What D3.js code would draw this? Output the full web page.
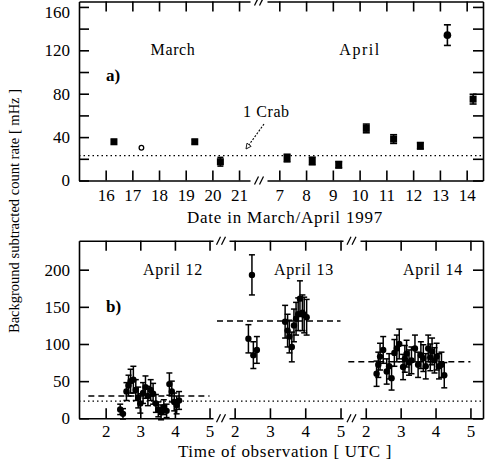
<!DOCTYPE html>
<html><head><meta charset="utf-8">
<script src="https://cdn.jsdelivr.net/npm/d3@7"></script>
<style>
body{margin:0;background:#fff;}
svg text{font-family:"Liberation Serif","Times New Roman",serif;fill:#000;}
</style></head>
<body><svg id="c" width="485" height="467"></svg>
<script>
// ---------- data ----------
const crabRate = 23;
// panel a
const marchDays  = [16.31, 17.34, 19.34, 20.3];
const marchRates = [35.7, 30.2, 35.7, 17.3];
const marchErrs  = [2, 0, 2, 4];
const marchOpen  = [false, true, false, false];
const aprilDays  = [7.29, 8.23, 9.22, 10.25, 11.27, 12.27, 13.28, 14.24];
const aprilRates = [20.7, 18, 14.5, 48, 38.2, 32, 134, 75];
const aprilErrs  = [3.5, 3.5, 3, 4, 4, 3, 9.5, 4.5];
const marchTicks = [16, 17, 18, 19, 20, 21];
const aprilTicks = [7, 8, 9, 10, 11, 12, 13, 14];
const rateTicksA = [0, 20, 40, 60, 80, 100, 120, 140, 160];
const rateLabelsA = [0, 40, 80, 120, 160];
// panel b
const hourTicks = [2, 3, 4, 5];
const rateTicksB = [0, 50, 100, 150, 200];
const dayNames = ["April 12", "April 13", "April 14"];
const dayMeans = [30, 131, 76];
const t12 = [2.42, 2.5, 2.6, 2.66, 2.72, 2.8, 2.87, 2.94, 3.0, 3.08, 3.15, 3.22, 3.3, 3.37, 3.45, 3.52, 3.6, 3.68, 3.76, 3.84, 3.91, 3.98, 4.05, 4.12];
const v12 = [12, 6, 36, 44, 50, 52, 38, 28, 20, 34, 42, 30, 38, 33, 20, 12, 8, 15, 10, 46, 36, 22, 18, 24];
const e12 = [7, 7, 12, 14, 16, 18, 14, 14, 13, 14, 15, 13, 14, 14, 12, 10, 10, 10, 9, 15, 14, 12, 12, 12];
const t13 = [2.39, 2.49, 2.53, 2.63, 3.43, 3.5, 3.55, 3.62, 3.68, 3.74, 3.8, 3.85, 3.92, 3.97, 4.04];
const v13 = [107, 193, 85, 92, 130, 118, 110, 96, 125, 134, 140, 161, 142, 139, 136];
const e13 = [19, 27, 18, 18, 22, 22, 22, 20, 22, 22, 22, 24, 24, 24, 24];
const t14 = [2.31, 2.36, 2.41, 2.5, 2.6, 2.67, 2.74, 2.82, 2.89, 2.96, 3.07, 3.12, 3.17, 3.24, 3.31, 3.41, 3.5, 3.58, 3.65, 3.72, 3.79, 3.85, 3.9, 3.97, 4.03, 4.1, 4.17, 4.25];
const v14 = [60, 72, 83, 92, 63, 70, 54, 88, 94, 100, 69, 80, 87, 75, 78, 94, 72, 85, 81, 70, 94, 82, 90, 78, 83, 70, 72, 58];
const e14 = [17, 17, 18, 18, 17, 17, 16, 18, 18, 20, 17, 18, 18, 17, 18, 18, 17, 18, 18, 17, 18, 18, 18, 17, 18, 17, 17, 17];

// ---------- layout ----------
const svg = d3.select("#c");
const L = 79, R = 483;
const aTop = 1.5, aBot = 180.5, bTop = 240.7, bBot = 418.3;
const TK = 10, FS = 17;

const yA = d3.scaleLinear().domain([0, 165]).range([aBot, aTop]);
const xMar = d3.scaleLinear().domain([15, 21.41]).range([L, 250]);
const xApr = d3.scaleLinear().domain([6.54, 14.61]).range([267, R]);
const yB = d3.scaleLinear().domain([0, 239]).range([bBot, bTop]);
const xB = [
  d3.scaleLinear().domain([1.23, 5.1]).range([L, 213]),
  d3.scaleLinear().domain([1.84, 5.07]).range([229, 343]),
  d3.scaleLinear().domain([1.835, 5.36]).range([360, R])
];

function styleAxis(g){
  g.selectAll("path.domain").attr("stroke","#000").attr("stroke-width",1.6);
  g.selectAll(".tick line").attr("stroke","#000").attr("stroke-width",1.6);
  g.selectAll(".tick text").style("font-size",FS+"px").attr("fill","#000");
  g.attr("font-family",null).attr("font-size",null);
}
function breakMark(x, y){
  const g = svg.append("g").attr("stroke","#000").attr("stroke-width",1.3);
  [-2.5, 2.5].forEach(d=>{
    g.append("line").attr("x1",x+d-2).attr("y1",y+4).attr("x2",x+d+2).attr("y2",y-4);
  });
}
function errBars(g, xs, ys, es, xS, yS, capW){
  xs.forEach((t,i)=>{
    if(!es[i]) return;
    const x = xS(t), y1 = yS(ys[i]-es[i]), y2 = yS(ys[i]+es[i]);
    g.append("line").attr("x1",x).attr("x2",x).attr("y1",y1).attr("y2",y2);
    g.append("line").attr("x1",x-capW).attr("x2",x+capW).attr("y1",y1).attr("y2",y1);
    g.append("line").attr("x1",x-capW).attr("x2",x+capW).attr("y1",y2).attr("y2",y2);
  });
}
function label(x, y, txt, size, ls, anchor, bold){
  return svg.append("text").attr("x",x).attr("y",y).attr("text-anchor",anchor||"start")
    .style("font-size",size+"px").style("letter-spacing",(ls||0)+"px")
    .style("font-weight",bold?"bold":"normal").text(txt);
}

// ---------- panel a ----------
[[xMar, marchTicks],[xApr, aprilTicks]].forEach(([s,t])=>{
  const gb = svg.append("g").attr("transform",`translate(0,${aBot})`)
    .call(d3.axisBottom(s).tickValues(t).tickSizeInner(-TK).tickSizeOuter(0).tickPadding(8.5).tickFormat(d3.format("d")));
  styleAxis(gb);
  const gt = svg.append("g").attr("transform",`translate(0,${aTop})`)
    .call(d3.axisTop(s).tickValues(t).tickSizeInner(-TK).tickSizeOuter(0).tickFormat(""));
  styleAxis(gt);
});
breakMark(259, aBot); breakMark(259, aTop);
const gyA = svg.append("g").attr("transform",`translate(${L},0)`)
  .call(d3.axisLeft(yA).tickValues(rateTicksA).tickSizeInner(-TK).tickSizeOuter(0).tickPadding(9)
    .tickFormat(d=>rateLabelsA.includes(d)?d:""));
styleAxis(gyA);
// keep the topmost label inside the picture, as in the reference
gyA.selectAll(".tick text").filter(d=>d===160).attr("dy","0.62em");
const gyA2 = svg.append("g").attr("transform",`translate(${R},0)`)
  .call(d3.axisRight(yA).tickValues(rateTicksA).tickSizeInner(-TK).tickSizeOuter(0).tickFormat(""));
styleAxis(gyA2);

// crab line
svg.append("line").attr("x1",L).attr("x2",R).attr("y1",yA(crabRate)).attr("y2",yA(crabRate))
  .attr("stroke","#000").attr("stroke-width",1.2).attr("stroke-dasharray","1.5,3");

// points a
const ea = svg.append("g").attr("stroke","#000").attr("stroke-width",1.6);
errBars(ea, marchDays, marchRates, marchErrs, xMar, yA, 3);
errBars(ea, aprilDays, aprilRates, aprilErrs, xApr, yA, 3.5);
marchDays.forEach((d,i)=>{
  const x = xMar(d), y = yA(marchRates[i]);
  if(marchOpen[i]) svg.append("circle").attr("cx",x).attr("cy",y).attr("r",2.3).attr("fill","none").attr("stroke","#000").attr("stroke-width",1.3);
  else svg.append("rect").attr("x",x-3.5).attr("y",y-3.5).attr("width",7).attr("height",7).attr("fill","#000");
});
aprilDays.forEach((d,i)=>{
  const x = xApr(d), y = yA(aprilRates[i]);
  if(i===6) svg.append("circle").attr("cx",x).attr("cy",y).attr("r",3.8).attr("fill","#000");
  else svg.append("rect").attr("x",x-3.5).attr("y",y-3.5).attr("width",7).attr("height",7).attr("fill","#000");
});

// labels a
label(173, 55, "March", 16, 0.6, "middle");
label(360, 55, "April", 16, 1.5, "middle");
label(106, 81, "a)", 17, 0, "start", true);
label(243, 117, "1 Crab", 16, 0.6, "start");
svg.append("defs").append("marker").attr("id","ah").attr("viewBox","0 0 10 10").attr("refX",9).attr("refY",5)
  .attr("markerWidth",6).attr("markerHeight",6).attr("orient","auto")
  .append("path").attr("d","M1,1 L9,5 L1,9 Z").attr("fill","#fff").attr("stroke","#000").attr("stroke-width",1.2);
svg.append("line").attr("x1",264).attr("y1",124).attr("x2",246).attr("y2",149)
  .attr("stroke","#000").attr("stroke-width",1.1).attr("stroke-dasharray","2,1.5").attr("marker-end","url(#ah)");
label(285, 223, "Date in March/April 1997", 17, 0.8, "middle");

// ---------- panel b ----------
xB.forEach(s=>{
  const gb = svg.append("g").attr("transform",`translate(0,${bBot})`)
    .call(d3.axisBottom(s).tickValues(hourTicks).tickSizeInner(-TK).tickSizeOuter(0).tickPadding(6.5).tickFormat(d3.format("d")));
  styleAxis(gb);
  const gt = svg.append("g").attr("transform",`translate(0,${bTop})`)
    .call(d3.axisTop(s).tickValues(hourTicks).tickSizeInner(-TK).tickSizeOuter(0).tickFormat(""));
  styleAxis(gt);
});
[221, 351.5].forEach(x=>{ breakMark(x, bBot); breakMark(x, bTop); });
const gyB = svg.append("g").attr("transform",`translate(${L},0)`)
  .call(d3.axisLeft(yB).tickValues(rateTicksB).tickSizeInner(-TK).tickSizeOuter(0).tickPadding(9));
styleAxis(gyB);
const gyB2 = svg.append("g").attr("transform",`translate(${R},0)`)
  .call(d3.axisRight(yB).tickValues(rateTicksB).tickSizeInner(-TK).tickSizeOuter(0).tickFormat(""));
styleAxis(gyB2);

svg.append("line").attr("x1",L).attr("x2",R).attr("y1",yB(crabRate)).attr("y2",yB(crabRate))
  .attr("stroke","#000").attr("stroke-width",1.2).attr("stroke-dasharray","1.5,3");

const series = [[t12,v12,e12],[t13,v13,e13],[t14,v14,e14]];
series.forEach(([t,v,e],k)=>{
  const s = xB[k];
  svg.append("line").attr("x1",s(1.5)).attr("x2",s(5.0)).attr("y1",yB(dayMeans[k])).attr("y2",yB(dayMeans[k]))
    .attr("stroke","#000").attr("stroke-width",1.4).attr("stroke-dasharray","6,4");
  const g = svg.append("g").attr("stroke","#000").attr("stroke-width",1.5);
  errBars(g, t, v, e, s, yB, 3);
  svg.append("g").selectAll("circle").data(t).join("circle")
    .attr("cx",d=>s(d)).attr("cy",(d,i)=>yB(v[i])).attr("r",3.2).attr("fill","#000");
});

const dayLabelX = [173, 304, 433];
dayNames.forEach((n,i)=> label(dayLabelX[i], 275, n, 16, 0.8, "middle"));
label(106, 312, "b)", 17, 0, "start", true);
label(285, 457, "Time of observation  [ UTC ]", 17, 0.7, "middle");

// y label
svg.append("text").attr("transform","translate(19,211) rotate(-90)").attr("text-anchor","middle")
  .style("font-size","14.5px").text("Background subtracted count rate  [ mHz ]");
</script></body></html>
